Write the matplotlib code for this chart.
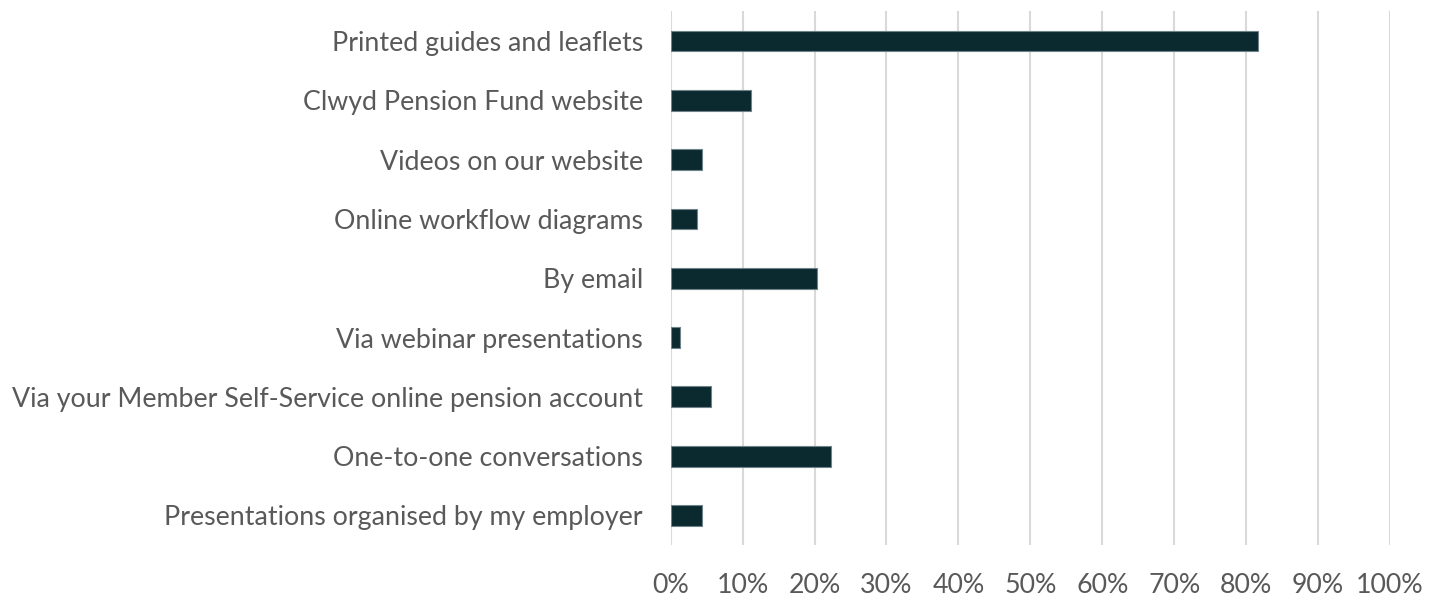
import numpy as np
import matplotlib.pyplot as plt
from matplotlib.ticker import PercentFormatter

# survey categories, top to bottom
categories = [
    "Printed guides and leaflets",
    "Clwyd Pension Fund website",
    "Videos on our website",
    "Online workflow diagrams",
    "By email",
    "Via webinar presentations",
    "Via your Member Self-Service online pension account",
    "One-to-one conversations",
    "Presentations organised by my employer",
]
# share of respondents (%)
values = [81.6, 11.2, 4.4, 3.7, 20.4, 1.3, 5.6, 22.3, 4.4]
x_ticks = [0, 10, 20, 30, 40, 50, 60, 70, 80, 90, 100]

plt.rcParams['font.family'] = ['Lato', 'DejaVu Sans']

fig = plt.figure(figsize=(14.3, 6.01), dpi=100)
ax = fig.add_axes([0.469, 0.093, 0.503, 0.888])

y = np.arange(len(categories))
ax.barh(y, values, height=0.35, color="#0b2a30", edgecolor="#6f8287", linewidth=0.8, zorder=3)

ax.set_xlim(0, 100)
ax.set_ylim(len(categories) - 0.5, -0.5)
ax.set_yticks(y)
ax.set_yticklabels(categories)
ax.set_xticks(x_ticks)
ax.xaxis.set_major_formatter(PercentFormatter(decimals=0))

ax.grid(axis="x", color="#d9d9d9", linewidth=1.5, zorder=0)
for s in ax.spines.values():
    s.set_visible(False)

ax.tick_params(axis="y", length=0, pad=20, labelsize=19.3, labelcolor="#595959")
ax.tick_params(axis="x", length=0, pad=20, labelsize=19.3, labelcolor="#595959")

fig.savefig("out.png", dpi=100)
